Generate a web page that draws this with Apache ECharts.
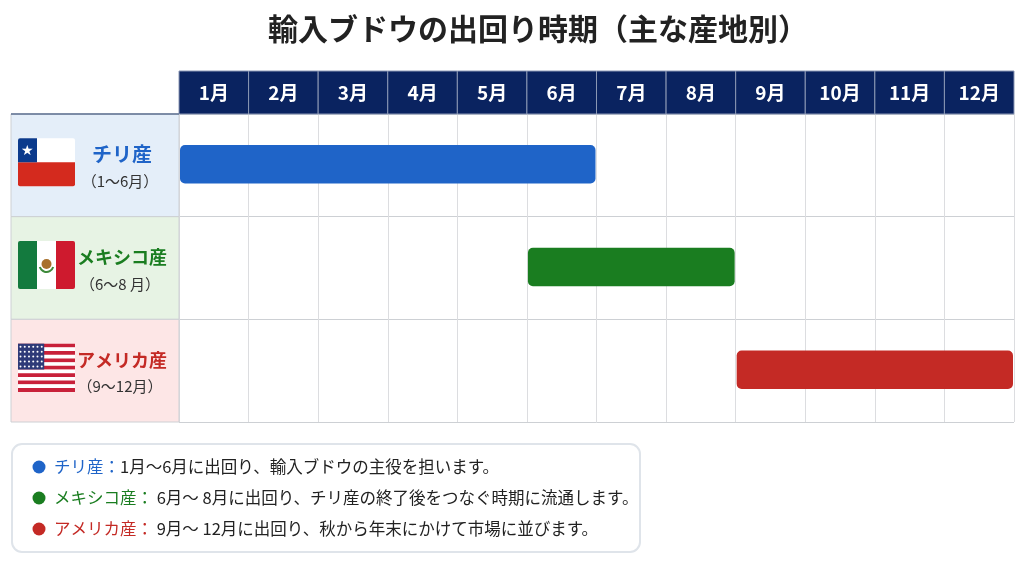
<!DOCTYPE html>
<html>
<head>
<meta charset="utf-8">
<script src="https://cdn.jsdelivr.net/npm/echarts@6/dist/echarts.min.js"></script>
<style>
  html, body { margin: 0; padding: 0; background: #fff; }
  #main { width: 1024px; height: 562px; }
</style>
</head>
<body>
<div id="main"></div>
<script>
// 月ラベル（ヘッダー）
var months = ['1月', '2月', '3月', '4月', '5月', '6月', '7月', '8月', '9月', '10月', '11月', '12月'];
// 産地
var regions = ['チリ産', 'メキシコ産', 'アメリカ産'];
var regionRanges = ['（1〜6月）', '（6〜8 月）', '（9〜12月）'];
var flagKeys = ['cl', 'mx', 'us'];
// 出回り期間（開始月・終了月）
var startMonth = [1, 6, 9];
var endMonth = [6, 8, 12];
// 説明文
var noteTexts = [
    '1月〜6月に出回り、輸入ブドウの主役を担います。',
    ' 6月〜 8月に出回り、チリ産の終了後をつなぐ時期に流通します。',
    ' 9月〜 12月に出回り、秋から年末にかけて市場に並びます。'
];

var barColors = ['#1f64c8', '#1a7d20', '#c42a25'];
var cellColors = ['#e4eef9', '#e7f3e4', '#fde6e6'];
var FONT = '"Noto Sans CJK JP", "Noto Sans", sans-serif';

var myChart = echarts.init(document.getElementById('main'));

// 国旗
function drawFlag(key, x, y, w, h) {
    var kids = [];
    if (key == 'cl') {
        kids.push({type: 'rect', shape: {x: x, y: y, width: w, height: h, r: 2}, style: {fill: '#ffffff'}});
        kids.push({type: 'rect', shape: {x: x, y: y + h / 2, width: w, height: h / 2, r: [0, 0, 2, 2]}, style: {fill: '#d42a1e'}});
        kids.push({type: 'rect', shape: {x: x, y: y, width: w / 3, height: h / 2, r: [2, 0, 0, 0]}, style: {fill: '#0b3a8c'}});
        kids.push({type: 'text', style: {x: x + w / 6, y: y + h / 4 + 1, text: '★', fill: '#fff', fontSize: 14, align: 'center', verticalAlign: 'middle'}});
    } else if (key == 'mx') {
        kids.push({type: 'rect', shape: {x: x, y: y, width: w / 3, height: h, r: [2, 0, 0, 2]}, style: {fill: '#137a3e'}});
        kids.push({type: 'rect', shape: {x: x + w / 3, y: y, width: w / 3, height: h}, style: {fill: '#ffffff'}});
        kids.push({type: 'rect', shape: {x: x + 2 * w / 3, y: y, width: w / 3, height: h, r: [0, 2, 2, 0]}, style: {fill: '#ce1a2e'}});
        kids.push({type: 'circle', shape: {cx: x + w / 2, cy: y + h / 2 - 1, r: 5}, style: {fill: '#a8702c'}});
        kids.push({type: 'arc', shape: {cx: x + w / 2, cy: y + h / 2, r: 7, startAngle: 0.3, endAngle: Math.PI - 0.3}, style: {stroke: '#3e8a3a', lineWidth: 2, fill: null}});
    } else {
        var sh = h / 13;
        for (var i = 0; i < 13; i++) {
            kids.push({type: 'rect', shape: {x: x, y: y + i * sh, width: w, height: sh + 0.3}, style: {fill: i % 2 == 0 ? '#c8213a' : '#ffffff'}});
        }
        var cw = w * 0.46, ch = sh * 7;
        kids.push({type: 'rect', shape: {x: x, y: y, width: cw, height: ch}, style: {fill: '#2e3a78'}});
        for (var r = 0; r < 5; r++) {
            for (var c = 0; c < 6; c++) {
                kids.push({type: 'circle', shape: {cx: x + 2.5 + c * (cw - 5) / 5, cy: y + 3 + r * (ch - 6) / 4, r: 1}, style: {fill: '#ffffff'}});
            }
        }
    }
    return kids;
}

var option = {
    animation: false,
    backgroundColor: '#ffffff',
    textStyle: {fontFamily: FONT},
    title: {
        text: '輸入ブドウの出回り時期（主な産地別）',
        left: 263,
        top: 9,
        textStyle: {fontSize: 30, fontWeight: 'bold', color: '#222222', fontFamily: FONT}
    },
    grid: [
        {left: 179, right: 10, top: 114, height: 308},
        {left: 179, right: 10, top: 71, height: 43}
    ],
    xAxis: [{
        gridIndex: 0, type: 'value', min: 0, max: 12, interval: 1,
        axisLabel: {show: false}, axisTick: {show: false}, axisLine: {show: false},
        splitLine: {show: true, lineStyle: {color: '#dcdde0', width: 1}}
    }, {
        gridIndex: 1, type: 'category', data: months,
        axisLabel: {show: false}, axisTick: {show: false}, axisLine: {show: false}
    }],
    yAxis: [{
        gridIndex: 0, type: 'category', data: regions, inverse: true,
        axisLabel: {show: false}, axisTick: {show: false}, axisLine: {show: false},
        splitLine: {show: true, lineStyle: {color: '#cdd0d4', width: 1}}
    }, {
        gridIndex: 1, type: 'value', min: 0, max: 1, show: false
    }],
    series: [{
        // ヘッダー
        type: 'custom',
        xAxisIndex: 1, yAxisIndex: 1,
        data: months.map(function (m, i) { return [i]; }),
        renderItem: function (params, api) {
            var i = api.value(0);
            var c = api.coord([i, 0.5]);
            var bw = api.size([1, 0])[0];
            var cs = params.coordSys;
            return {
                type: 'group',
                children: [{
                    type: 'rect',
                    shape: {x: c[0] - bw / 2, y: cs.y, width: bw, height: cs.height},
                    style: {fill: '#0a2360', stroke: '#8a97b4', lineWidth: 1}
                }, {
                    type: 'text',
                    style: {x: c[0], y: c[1], text: months[i], fill: '#ffffff', fontSize: 19, fontWeight: 'bold', fontFamily: FONT, align: 'center', verticalAlign: 'middle'}
                }]
            };
        }
    }, {
        // 産地ラベル列
        type: 'custom',
        xAxisIndex: 0, yAxisIndex: 0,
        clip: false,
        data: regions.map(function (r, i) { return [0, i]; }),
        renderItem: function (params, api) {
            var i = api.value(1);
            var c = api.coord([0, i]);
            var bh = api.size([0, 1])[1];
            var cs = params.coordSys;
            var x0 = 11, w = cs.x - x0;
            var top = c[1] - bh / 2;
            var kids = [{
                type: 'rect',
                shape: {x: x0, y: top, width: w, height: bh},
                style: {fill: cellColors[i], stroke: '#cdd0d4', lineWidth: 1}
            }];
            kids = kids.concat(drawFlag(flagKeys[i], 18, c[1] - 27, 57, 48));
            kids.push({
                type: 'text',
                style: {x: 122, y: c[1] - 11, text: regions[i], fill: barColors[i], fontSize: i == 0 ? 20 : 18, fontWeight: 'bold', fontFamily: FONT, align: 'center', verticalAlign: 'middle'}
            });
            kids.push({
                type: 'text',
                style: {x: 120, y: c[1] + 16, text: regionRanges[i], fill: '#333333', fontSize: 15, fontFamily: FONT, align: 'center', verticalAlign: 'middle'}
            });
            if (i == 0) {
                kids.push({type: 'line', shape: {x1: x0, y1: top, x2: cs.x, y2: top}, style: {stroke: '#5b6f90', lineWidth: 1.5}});
            }
            return {type: 'group', children: kids};
        }
    }, {
        // 出回り期間バー
        type: 'custom',
        xAxisIndex: 0, yAxisIndex: 0,
        data: regions.map(function (r, i) { return [i, startMonth[i] - 1, endMonth[i]]; }),
        renderItem: function (params, api) {
            var i = api.value(0);
            var p0 = api.coord([api.value(1), i]);
            var p1 = api.coord([api.value(2), i]);
            var h = api.size([0, 1])[1] * 0.375;
            return {
                type: 'rect',
                shape: {x: p0[0] + 1, y: p0[1] - h / 2 - 1, width: p1[0] - p0[0] - 2, height: h, r: 5},
                style: {fill: barColors[i]}
            };
        }
    }],
    graphic: [{
        type: 'rect',
        shape: {x: 12, y: 444, width: 628, height: 108, r: 10},
        style: {fill: '#ffffff', stroke: '#dfe4ea', lineWidth: 2}
    }].concat(noteTexts.map(function (t, i) {
        return {
            type: 'group',
            children: [{
                type: 'circle',
                shape: {cx: 39, cy: 467 + i * 31, r: 6.5},
                style: {fill: barColors[i]}
            }, {
                type: 'text',
                style: {
                    x: 54, y: 467 + i * 31,
                    verticalAlign: 'middle',
                    text: '{c|' + regions[i] + '：}{t|' + t + '}',
                    rich: {
                        c: {fill: barColors[i], fontSize: 16.5, fontFamily: FONT},
                        t: {fill: '#222222', fontSize: 16.5, fontFamily: FONT}
                    }
                }
            }]
        };
    }))
};

myChart.setOption(option);
</script>
</body>
</html>
